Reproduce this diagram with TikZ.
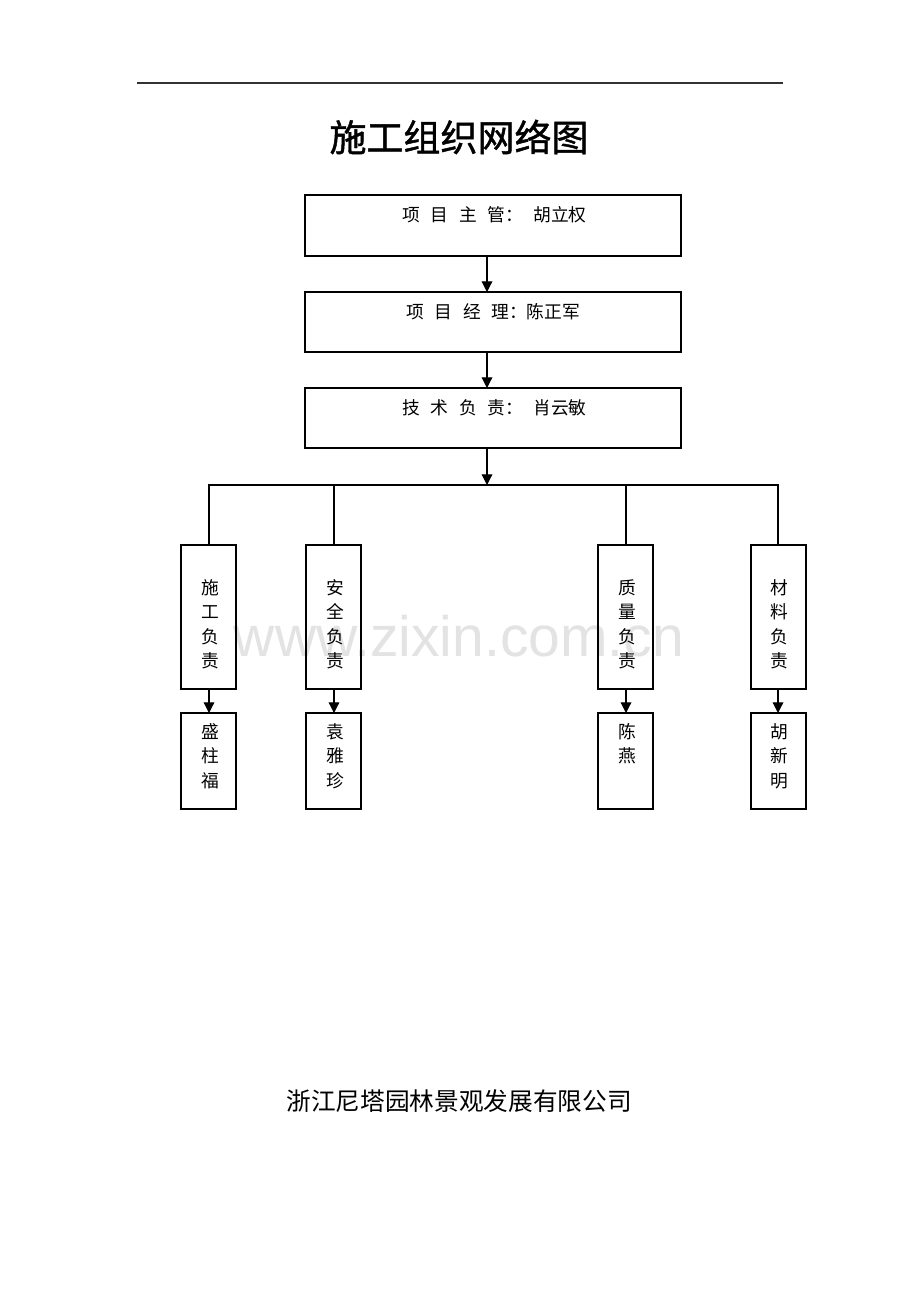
\documentclass[tikz,border=0pt]{standalone}
\usepackage{fontspec}
\newfontfamily\cjk{Noto Sans CJK SC}
\newfontfamily\cjktitle{Noto Sans CJK SC}[FakeBold=1.2]
\setmainfont{Liberation Sans}
\usetikzlibrary{arrows.meta}
\tikzset{
  box/.style={draw=black,line width=0.9pt},
  conn/.style={draw=black,line width=0.9pt},
  arr/.style={conn,-{Triangle[width=8pt,length=8pt]}},
  txt/.style={font=\cjk\fontsize{13.3}{18.4}\selectfont,inner sep=0pt},
  vtxt/.style={font=\cjk\fontsize{13.3}{18.4}\selectfont,inner sep=0pt,align=center,anchor=north}
}
\begin{document}
\begin{tikzpicture}[x=0.75pt,y=-0.75pt]
\useasboundingbox[fill=white] (0,0) rectangle (920,1302);
% watermark
\node[font=\fontsize{42.8}{48}\selectfont,text=black!11,inner sep=0pt] (wm) at (459,636) {www.zixin.com.cn};
% top rule
\coordinate (rl) at (137,83);
\coordinate (rr) at (783,83);
\draw[line width=1pt,black!80] (rl) -- (rr);
% title
\node[font=\cjktitle\fontsize{27.75}{32}\selectfont,inner sep=0pt] (title) at (459,137) {施工组织网络图};
% top boxes
\draw[box] (305,195) rectangle (681,256);
\draw[box] (305,292) rectangle (681,352);
\draw[box] (305,388) rectangle (681,448);
\coordinate (b1s) at (487,256);
\coordinate (b2n) at (487,292);
\coordinate (b2s) at (487,352);
\coordinate (b3n) at (487,388);
\coordinate (b3s) at (487,448);
\coordinate (bus) at (487,485);
\node[txt,anchor=west] (t1) at (402,215) {项\hspace{0.6em}目\hspace{0.6em}主\hspace{0.6em}管：\hspace{0.6em}胡立权};
\node[txt,anchor=west] (t2) at (406,312) {项\hspace{0.6em}目\hspace{0.6em}经\hspace{0.6em}理：陈正军};
\node[txt,anchor=west] (t3) at (402,408) {技\hspace{0.6em}术\hspace{0.6em}负\hspace{0.6em}责：\hspace{0.6em}肖云敏};
\draw[arr] (b1s) -- (b2n);
\draw[arr] (b2s) -- (b3n);
\draw[arr] (b3s) -- (bus);
% bus
\coordinate (ba) at (209,485);
\coordinate (bb) at (334,485);
\coordinate (bc) at (626,485);
\coordinate (bd) at (778,485);
\draw[conn,line cap=rect] (ba) -- (bd);
% second row
\foreach \x/\l/\r/\n in {209/181/236/a,334/306/361/b,626/598/653/c,778/751/806/d}{
  \draw[box] (\l,545) rectangle (\r,689);
  \draw[box] (\l,713) rectangle (\r,809);
  \coordinate (top\n) at (\x,545);
  \coordinate (bot\n) at (\x,689);
  \coordinate (low\n) at (\x,713);
}
\draw[conn] (ba) -- (topa);
\draw[conn] (bb) -- (topb);
\draw[conn] (bc) -- (topc);
\draw[conn] (bd) -- (topd);
\draw[arr] (bota) -- (lowa);
\draw[arr] (botb) -- (lowb);
\draw[arr] (botc) -- (lowc);
\draw[arr] (botd) -- (lowd);
\node[vtxt] (r2a) at (210,579) {施\\工\\负\\责};
\node[vtxt] (r2b) at (335,579) {安\\全\\负\\责};
\node[vtxt] (r2c) at (627,579) {质\\量\\负\\责};
\node[vtxt] (r2d) at (779,579) {材\\料\\负\\责};
\node[vtxt] (r3a) at (210,723) {盛\\柱\\福};
\node[vtxt] (r3b) at (335,723) {袁\\雅\\珍};
\node[vtxt] (r3c) at (627,723) {陈\\燕};
\node[vtxt] (r3d) at (779,723) {胡\\新\\明};
% footer
\node[font=\cjk\fontsize{18.5}{22}\selectfont,inner sep=0pt] (foot) at (459,1101) {浙江尼塔园林景观发展有限公司};
\end{tikzpicture}
\end{document}
